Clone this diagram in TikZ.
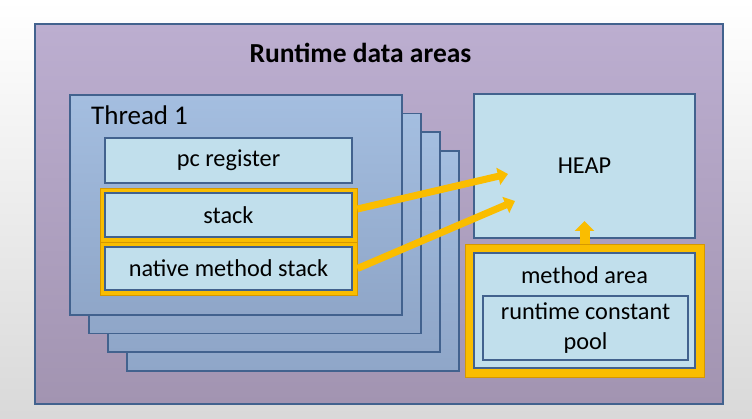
\documentclass[tikz,border=0pt]{standalone}
\usepackage{fontspec}
\setmainfont{Carlito}
\usetikzlibrary{arrows.meta, positioning, calc}
\definecolor{areapurple}{RGB}{188,174,208}
\definecolor{areapurpledark}{RGB}{162,148,177}
\definecolor{threadblue}{RGB}{164,190,224}
\definecolor{threadbluedark}{RGB}{143,166,200}
\definecolor{cellblue}{RGB}{193,223,236}
\definecolor{edgeblue}{RGB}{66,98,142}
\definecolor{hiyellow}{RGB}{250,189,0}
\definecolor{hiedge}{RGB}{214,152,0}

\tikzset{
  cellbox/.style={draw=edgeblue, line width=2pt, fill=cellblue, inner sep=0pt,
    font=\fontsize{24.3}{28}\selectfont},
  threadbox/.style={draw=edgeblue, line width=1.8pt, top color=threadblue, bottom color=threadbluedark,
    minimum width=332pt, minimum height=220pt, anchor=north west},
  hibox/.style={draw=hiedge, line width=0.8pt, fill=hiyellow, inner sep=0pt},
  hiarrow/.style={hiyellow, line width=7pt, -{Triangle[width=17pt,length=10pt]}}
}

\begin{document}
\begin{tikzpicture}[x=1pt, y=-1pt]
  \useasboundingbox (0,0) rectangle (752,419);
  \shade[top color=white, middle color=white, bottom color=gray!30] (0,0) rectangle (752,419);

  % outer area
  \node[draw=edgeblue, line width=2pt, top color=areapurple, middle color=areapurple, bottom color=areapurpledark,
    minimum width=688pt, minimum height=380pt, anchor=north west, inner sep=0pt] (runtime) at (34,23) {};
  \node[font=\bfseries\fontsize{27.5}{32}\selectfont, anchor=base] (title) at (360.5,63) {Runtime data areas};

  % thread stack
  \foreach \k in {3,2,1}
    \node[threadbox] (thread\k) at ({69+19*\k},{94+18.7*\k}) {};
  \node[threadbox] (thread0) at (69,94) {};
  \node[font=\fontsize{27}{32}\selectfont, anchor=base west, inner sep=0pt] (threadname) at (91,125) {Thread 1};

  \node[cellbox, minimum width=247pt, minimum height=45pt] (pc) at (228.5,160.5) {pc register};
  \node[hibox, minimum width=257pt, minimum height=54pt] (stackhi) at (228.5,215) {};
  \node[cellbox, minimum width=247pt, minimum height=44pt] (stack) at (stackhi) {stack};
  \node[hibox, minimum width=257pt, minimum height=53pt] (nativehi) at (228.5,268.5) {};
  \node[cellbox, minimum width=247pt, minimum height=43pt] (native) at (nativehi) {native method stack};

  % shared areas
  \node[cellbox, minimum width=221pt, minimum height=144pt] (heap) at (584.5,166) {HEAP};
  \node[hibox, minimum width=239pt, minimum height=133pt] (methodhi) at (584.5,310.5) {};
  \node[cellbox, minimum width=221pt, minimum height=115pt] (method) at (methodhi) {};
  \node[font=\fontsize{24.3}{28}\selectfont] (methodname) at (584.5,275) {method area};
  \node[cellbox, minimum width=205pt, minimum height=64pt, align=center,
    font=\fontsize{24.3}{30}\selectfont] (pool) at (585.5,328) {runtime constant\\pool};

  % references
  \draw[hiarrow] ([yshift=6pt]stackhi.east) -- ([xshift=35pt, yshift=-8pt]heap.west);
  \draw[hiarrow] (nativehi.east) -- ([xshift=42pt, yshift=-35pt]heap.west);
  \draw[hiyellow, line width=10pt, -{Triangle[width=19pt,length=10pt]}] (methodhi.north) -- ([yshift=18pt]heap.south);
\end{tikzpicture}
\end{document}
